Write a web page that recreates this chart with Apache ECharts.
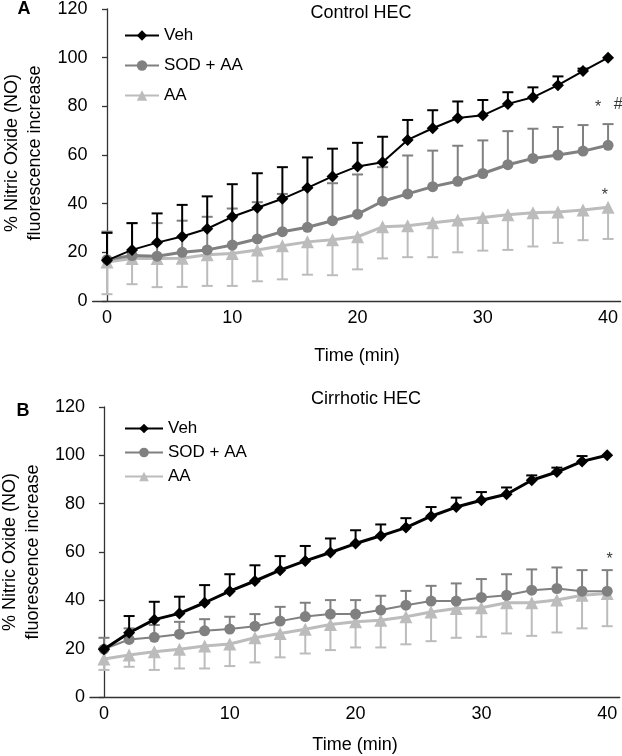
<!DOCTYPE html>
<html>
<head>
<meta charset="utf-8">
<script src="https://cdn.jsdelivr.net/npm/echarts@6/dist/echarts.min.js"></script>
<style>html,body{margin:0;padding:0;background:#fff;}#c{width:622px;height:756px;}</style>
</head>
<body>
<div id="c"></div>
<script>
// ---------- data ----------
const timeMin = [0,2,4,6,8,10,12,14,16,18,20,22,24,26,28,30,32,34,36,38,40];
const xTicks = [0,10,20,30,40];

// Panel A: Control HEC (mean, and error-bar end value)
const vehA    = [16.7,21,24,26.5,29.7,34.6,38.3,42,46.5,51.2,55.3,57,66.2,71,75.2,76.3,81,83.7,88.7,94.5,100];
const vehAErr = [28,32,36,39.5,43,48,52.5,55,59,62.6,65,67.5,74.4,78.4,82,82.6,85.8,87.8,92.3,95.5,100];
const sodA    = [17,18.7,18.4,20,21,23,25.5,28.5,30.3,33,35.7,41,44,47,49.2,52.4,56,58.6,60,61.6,64];
const sodAErr = [28.5,32,32,33,34.6,38,40.6,44,46.5,48.4,52,55,59.8,61.8,63.8,66,69.8,70.8,71.5,72.3,72.7];
const aaA     = [16,17.5,17.5,17.6,19,19.5,21,22.7,24.3,25.2,26.4,30.5,30.9,32.2,33.3,34.3,35.4,36.3,36.6,37.4,38.5];
const aaAErr  = [2.8,6.9,5.7,5.8,6.2,6.2,8.1,8.9,10.8,10.6,13,17.5,18,18,20,20.7,21,22.4,23.9,25,25.5];

// Panel B: Cirrhotic HEC
const vehB    = [19.8,26.6,32,34.6,39,43.8,48,52.5,56.3,59.8,63.5,66.7,70.1,74.8,78.6,81.4,83.9,89.7,93.1,97.5,100];
const vehBErr = [20,33.5,39.4,41.5,46.3,50.8,54.5,58.3,62.5,65.6,69,71.4,74,78.6,82.5,84.8,86.7,91.7,94.9,99.7,100];
const sodB    = [19.8,23.8,24.7,26,27.4,28.1,29.3,31.4,33.3,34.3,34.3,36,38,39.7,39.7,41.2,42.1,44.2,44.9,43.8,43.8];
const sodBErr = [24.5,28.4,29.8,31.1,32.2,33.2,34.3,37.3,39,40.1,40.1,41.9,43.9,46,47,48.8,50.8,52.8,53.6,52.5,52.5];
const aaB     = [15.7,17.4,18.7,19.8,21.1,21.9,24.5,26.3,28,30,31.1,31.8,33.2,35.2,36.6,36.9,39,39,40.1,42.1,42.8];
const aaBErr  = [11.2,12.5,11.2,11.8,11.8,12.8,14.3,16.4,18,19.4,20.5,20.5,21.8,23.1,24.5,24.9,26.3,25.3,26.7,28.4,29.3];

// significance marks: [time, value, text]
const annotA = [[39.2,79.5,'*'],[40.8,80.7,'#'],[39.75,43.5,'*']];
const annotB = [[40.2,57,'*']];

const seriesNames = ['Veh','SOD + AA','AA'];
const titles = ['Control HEC','Cirrhotic HEC'];
const panelLetters = ['A','B'];
const yName = '% Nitric Oxide (NO)\nfluorescence increase';
const xName = 'Time (min)';

// ---------- styling ----------
const cVeh = '#000000', cSod = '#808080', cAA = '#bcbcbc';
const FONT = 'Liberation Sans, Arial, sans-serif';

function pairs(vals){ return timeMin.map((t,i)=>[t, vals[i]]); }
function errPairs(vals, ends){ return timeMin.map((t,i)=>[t, vals[i], ends[i]]); }

function errSeries(idx, vals, ends, color){
  return {
    type:'custom', xAxisIndex:idx, yAxisIndex:idx, z:1, silent:true,
    data: errPairs(vals, ends),
    renderItem: function(params, api){
      const t = api.value(0), m = api.value(1), e = api.value(2);
      if (Math.abs(e - m) < 0.01) return null;
      const p1 = api.coord([t,m]), p2 = api.coord([t,e]);
      return {type:'group', children:[
        {type:'line', shape:{x1:p1[0],y1:p1[1],x2:p2[0],y2:p2[1]}, style:{stroke:color,lineWidth:2}},
        {type:'line', shape:{x1:p2[0]-5.5,y1:p2[1],x2:p2[0]+5.5,y2:p2[1]}, style:{stroke:color,lineWidth:2}}
      ]};
    }
  };
}
function lineSeries(idx, name, vals, color, width, symbol, size, z){
  return {
    type:'line', name:name, xAxisIndex:idx, yAxisIndex:idx, z:z,
    data: pairs(vals), symbol:symbol, symbolSize:size, showSymbol:true,
    lineStyle:{color:color, width:width}, itemStyle:{color:color},
    animation:false
  };
}
function annotSeries(idx, arr){
  return {
    type:'scatter', xAxisIndex:idx, yAxisIndex:idx, z:10, symbolSize:1,
    itemStyle:{color:'rgba(0,0,0,0)'},
    data: arr.map(a=>({value:[a[0],a[1]], name:a[2]})),
    label:{show:true, position:'inside', formatter:p=>p.name, color:'#000', fontSize:16, fontFamily:FONT}
  };
}

const grids = [
  {left:92.6, top:6, width:528, height:295},
  {left:90, top:407, width:529.8, height:290}
];
const xMins = [-1.15, -1.11];

const option = {
  animation:false,
  textStyle:{fontFamily:FONT},
  grid: grids,
  title: [
    {text:titles[0], left:356, top:-1, textAlign:'center', textStyle:{fontSize:18, fontWeight:'normal', color:'#000', fontFamily:FONT}},
    {text:titles[1], left:361, top:385, textAlign:'center', textStyle:{fontSize:18, fontWeight:'normal', color:'#000', fontFamily:FONT}}
  ],
  legend: [
    {orient:'vertical', left:119, top:22, itemWidth:34, itemHeight:13, itemGap:13,
     data:seriesNames, textStyle:{fontSize:17, color:'#000', fontFamily:FONT}},
    {orient:'vertical', left:119, top:415, itemWidth:38, itemHeight:12, itemGap:7,
     data:seriesNames.map(n=>n+' '), textStyle:{fontSize:17, color:'#000', fontFamily:FONT}}
  ],
  xAxis: [0,1].map(i=>({
    type:'value', gridIndex:i, min:xMins[i], max:41,
    splitLine:{show:false},
    axisLine:{show:true, onZero:false, lineStyle:{color:'#333', width:1.3}},
    axisTick:{show:false},
    axisLabel:{customValues:xTicks, fontSize:18, color:'#000', margin:8, fontFamily:FONT}
  })),
  yAxis: [0,1].map(i=>({
    type:'value', gridIndex:i, min:0, max:120, interval:20,
    splitLine:{show:false},
    axisLine:{show:true, lineStyle:{color:'#333', width:1.3}},
    axisTick:{show:true, length:5, lineStyle:{color:'#333', width:1.3}},
    axisLabel:{fontSize:18, color:'#000', margin:5, fontFamily:FONT}
  })),
  graphic: [
    {type:'text', x:24, y:9, style:{text:panelLetters[0], font:'bold 18px '+FONT, fill:'#000', textAlign:'center', textVerticalAlign:'middle'}},
    {type:'text', x:23, y:411, style:{text:panelLetters[1], font:'bold 18px '+FONT, fill:'#000', textAlign:'center', textVerticalAlign:'middle'}},
    {type:'text', x:23.5, y:153, rotation:Math.PI/2, style:{text:yName, font:'18px '+FONT, fill:'#000', textAlign:'center', textVerticalAlign:'middle', lineHeight:23}},
    {type:'text', x:21.5, y:552, rotation:Math.PI/2, style:{text:yName, font:'18px '+FONT, fill:'#000', textAlign:'center', textVerticalAlign:'middle', lineHeight:23}},
    {type:'text', x:357, y:356, style:{text:xName, font:'18px '+FONT, fill:'#000', textAlign:'center', textVerticalAlign:'middle'}},
    {type:'text', x:355, y:745, style:{text:xName, font:'18px '+FONT, fill:'#000', textAlign:'center', textVerticalAlign:'middle'}}
  ],
  series: [
    errSeries(0, aaA, aaAErr, cAA),
    errSeries(0, sodA, sodAErr, cSod),
    errSeries(0, vehA, vehAErr, cVeh),
    lineSeries(0, 'AA', aaA, cAA, 3, 'triangle', 13, 3),
    lineSeries(0, 'SOD + AA', sodA, cSod, 3, 'circle', 11, 4),
    lineSeries(0, 'Veh', vehA, cVeh, 2, 'diamond', 12, 5),
    annotSeries(0, annotA),

    errSeries(1, aaB, aaBErr, cAA),
    errSeries(1, sodB, sodBErr, cSod),
    errSeries(1, vehB, vehBErr, cVeh),
    lineSeries(1, 'AA ', aaB, cAA, 3, 'triangle', 13, 3),
    lineSeries(1, 'SOD + AA ', sodB, cSod, 2, 'circle', 11, 4),
    lineSeries(1, 'Veh ', vehB, cVeh, 3, 'diamond', 12, 5),
    annotSeries(1, annotB)
  ]
};
const chart = echarts.init(document.getElementById('c'), null, {renderer:'canvas'});
chart.setOption(option);
</script>
</body>
</html>
